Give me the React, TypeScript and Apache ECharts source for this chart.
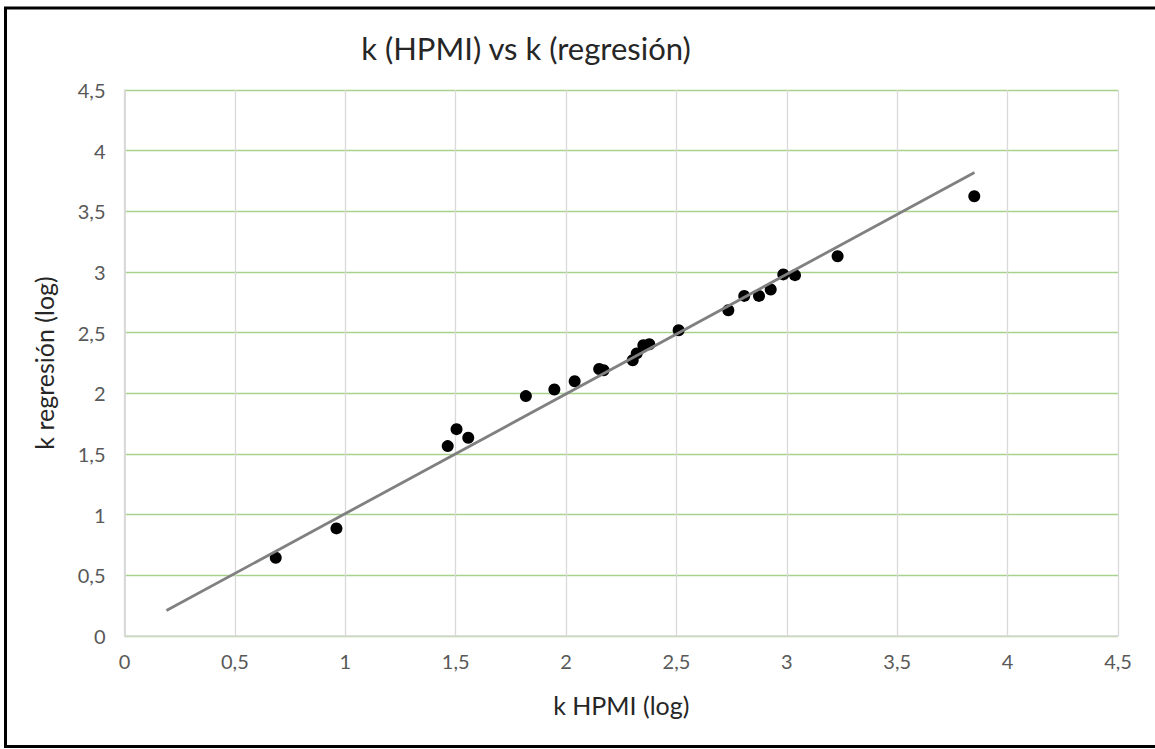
import React, { useEffect, useRef } from "react";
import * as echarts from "echarts";

const titleText = "k (HPMI) vs k (regresión)";
const xAxisName = "k HPMI (log)";
const yAxisName = "k regresión (log)";

const kHPMI = [0.685, 0.96, 1.464, 1.504, 1.557, 1.818, 1.947, 2.039, 2.15, 2.17, 2.302, 2.32, 2.35, 2.377, 2.51, 2.735, 2.807, 2.874, 2.927, 2.984, 3.037, 3.23, 3.849];
const kRegresion = [0.645, 0.887, 1.565, 1.705, 1.634, 1.977, 2.032, 2.1, 2.2, 2.19, 2.273, 2.329, 2.397, 2.405, 2.52, 2.685, 2.803, 2.803, 2.856, 2.98, 2.974, 3.13, 3.624];

const trendX = [0.19, 3.85];
const trendY = [0.21, 3.82];

const fmt = (v: number) => String(v).replace(".", ",");

export default function App() {
  const ref = useRef<HTMLDivElement>(null);
  useEffect(() => {
    if (!ref.current) return;
    const chart = echarts.init(ref.current, null, { renderer: "svg" });
    const font = "Lato, 'Open Sans', sans-serif";
    chart.setOption({
      animation: false,
      backgroundColor: "#ffffff",
      title: {
        text: titleText,
        left: 521,
        top: 27,
        textAlign: "center",
        textStyle: { fontFamily: font, fontSize: 31, fontWeight: "normal", color: "#262626" },
      },
      graphic: [
        {
          type: "rect",
          shape: { x: 5.5, y: 8, width: 1160, height: 738.5 },
          style: { fill: "none", stroke: "#000000", lineWidth: 3 },
          silent: true,
        },
      ],
      grid: { left: 124.5, right: 37, top: 90, bottom: 113, containLabel: false },
      xAxis: {
        type: "value",
        min: 0,
        max: 4.5,
        interval: 0.5,
        name: xAxisName,
        nameLocation: "middle",
        nameGap: 56,
        nameTextStyle: { fontFamily: font, fontSize: 25, color: "#262626" },
        axisLine: { show: true, onZero: false, lineStyle: { color: "#d9d9d9", width: 1.5 } },
        axisTick: { show: false },
        axisLabel: { fontFamily: font, fontSize: 20, color: "#595959", margin: 15, formatter: fmt },
        splitLine: { show: true, lineStyle: { color: "#d9d9d9", width: 1.3 } },
      },
      yAxis: {
        type: "value",
        min: 0,
        max: 4.5,
        interval: 0.5,
        name: yAxisName,
        nameLocation: "middle",
        nameGap: 68,
        nameRotate: 90,
        nameTextStyle: { fontFamily: font, fontSize: 25, color: "#262626" },
        axisLine: { show: true, onZero: false, lineStyle: { color: "#d9d9d9", width: 2 } },
        axisTick: { show: false },
        axisLabel: { fontFamily: font, fontSize: 20, color: "#595959", margin: 19, formatter: fmt },
        splitLine: { show: true, lineStyle: { color: "#a9d18e", width: 1.3 } },
      },
      series: [
        {
          type: "line",
          data: trendX.map((x, i) => [x, trendY[i]]),
          showSymbol: false,
          symbol: "none",
          lineStyle: { color: "#808080", width: 2.8 },
          z: 3,
        },
        {
          type: "scatter",
          data: kHPMI.map((x, i) => [x, kRegresion[i]]),
          symbol: "circle",
          symbolSize: 12,
          itemStyle: { color: "#000000", opacity: 1 },
          z: 2,
        },
      ],
    });
    return () => chart.dispose();
  }, []);
  return (
    <div
      ref={ref}
      style={{ position: "fixed", left: 0, top: 0, width: 1155, height: 749 }}
    />
  );
}
